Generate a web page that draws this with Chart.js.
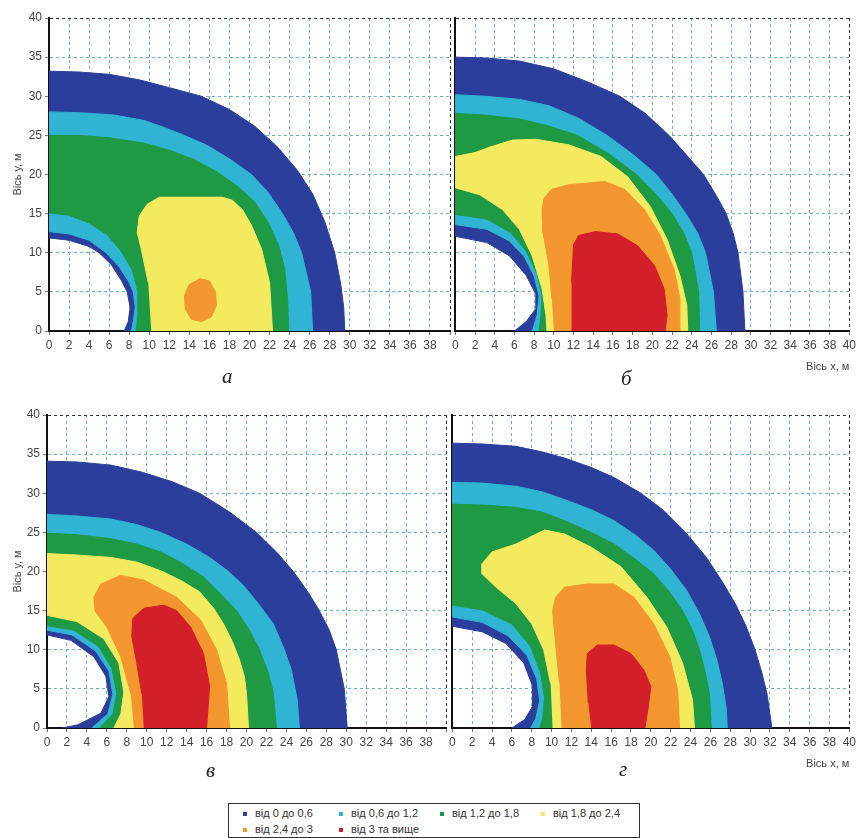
<!DOCTYPE html>
<html>
<head>
<meta charset="utf-8">
<script src="https://cdn.jsdelivr.net/npm/chart.js@4.4.0/dist/chart.umd.min.js"></script>
<style>
  body { margin: 0; background: #fff; width: 859px; height: 838px; position: relative; overflow: hidden;
         font-family: "Liberation Sans", Arial, sans-serif; }
  canvas { position: absolute; }
  .cap { position: absolute; font: italic 21px "Liberation Serif", "DejaVu Serif", serif; color: #222; }
  #legend { position: absolute; left: 228px; top: 803px; width: 410px; height: 33px; border: 1px solid #333;
            font-size: 11px; color: #333; }
  #legend .item { position: absolute; white-space: nowrap; }
  #legend .mark { display: inline-block; width: 4px; height: 4px; margin-right: 8px; vertical-align: middle; }
</style>
</head>
<body>
<canvas id="chartA" width="453" height="378" style="left:0;top:0"></canvas>
<canvas id="chartB" width="410" height="378" style="left:449px;top:0"></canvas>
<canvas id="chartC" width="449" height="378" style="left:0;top:397px"></canvas>
<canvas id="chartD" width="413" height="378" style="left:446px;top:397px"></canvas>
<div class="cap" style="left:222px;top:364px">а</div>
<div class="cap" style="left:621px;top:366px">б</div>
<div class="cap" style="left:206px;top:758px">в</div>
<div class="cap" style="left:619px;top:757px">г</div>
<div id="legend"></div>
<script>
// рівні
const levelLabels = ['від 0 до 0,6', 'від 0,6 до 1,2', 'від 1,2 до 1,8', 'від 1,8 до 2,4', 'від 2,4 до 3', 'від 3 та вище'];
const levelColors = ['#2b3e9b', '#2fb4d4', '#1d9a43', '#f3ea5f', '#f4962e', '#d21f29'];

// а
const aBlueOuter = [[29.5,0],[29.4,3],[29.1,6],[28.5,10],[27.5,14],[26.3,17.5],[24.8,20.5],[22.8,23.5],[20.5,26.2],[18,28.3],[15.2,30],[12,31.1],[9,32.1],[6,32.8],[3,33.1],[0,33.2]];
const aCyanOuter = [[26.3,0],[26.1,5],[25.2,10],[24.4,12.5],[23.3,15],[21.8,17.8],[20.2,20],[18,22],[15.8,23.7],[13.5,25],[11.5,26],[9.5,26.9],[6.5,27.6],[3,27.9],[0,28]];
const aGreenOuter = [[23.9,0],[23.8,4],[23.5,8],[22.9,11],[21.8,14],[20.5,16.5],[18.8,18.5],[16.8,20.3],[14.5,21.9],[12,23.1],[9.5,24],[6,24.7],[3,25],[0,25]];
const aHole = [[0,11.9],[2,11.6],[4,10.8],[5,10],[6.2,8.5],[7.2,6.5],[7.8,5],[8.1,3],[7.9,1.2],[7.5,0]];
const aBlueInner = [[0,12.7],[2,12.4],[4,11.6],[5.7,10],[7,8.2],[8,6.2],[8.4,5],[8.6,3],[8.4,1.2],[8.2,0]];
const aCyanInner = [[0,15.1],[2,14.8],[4,13.8],[5.8,12.3],[7.2,10.2],[8.3,7.8],[8.9,5],[8.9,2.5],[8.7,0]];
const aYellow = [[10.2,0],[22.3,0],[22,6.2],[21.2,10.5],[20.2,13.5],[19.3,15.5],[18.3,16.7],[17.3,17.1],[11,17.1],[9.8,16.2],[9,14.7],[8.8,12.6],[9.2,10.5],[9.9,6.2]];
const aOrange = [[15,6.7],[16,6.4],[16.6,5],[16.7,3.3],[16.2,1.8],[15.2,1.2],[14.2,1.5],[13.6,2.8],[13.5,4.5],[14,6]];

// б
const bBlueOuter = [[29.4,0],[29.2,5],[28.7,10],[28.2,12.5],[27.5,15],[26.5,17.3],[25.2,20],[23.6,22.3],[21.7,25],[19.3,27.8],[16.7,30],[13.5,31.8],[10,33.5],[6.5,34.5],[3,34.9],[0,35]];
const bCyanOuter = [[26.5,0],[26.2,5],[25.4,10],[24.6,12.5],[23.4,15],[22,17.5],[20.4,20],[18,22.6],[15.4,25],[12.5,27.2],[9.5,28.8],[6.5,29.6],[3,30],[0,30.2]];
const bGreenOuter = [[24.8,0],[24.7,5],[24,10],[23.2,12.5],[22,15],[20.5,17.3],[18.4,20],[15.5,22.7],[12.4,25],[9.5,26.2],[6.5,27.1],[3,27.6],[0,27.8]];
const bYellowOuter = [[23.6,0],[23.5,3.3],[22.8,7.1],[21.5,11.7],[19.8,15.9],[17.5,19.7],[14.8,22.3],[11.5,23.8],[8.2,24.5],[5.8,24.4],[3.5,23.5],[2,22.8],[0,22.3]];
const bHole = [[0,12.1],[3.2,11.3],[5.5,9.6],[7.2,7.1],[8.2,4.6],[8.2,2.9],[7.2,1.2],[6,0]];
const bBlueInner = [[0,13.6],[3.2,13],[5.5,11.5],[7,9.5],[8,7],[8.5,4.5],[8.3,2],[7.8,0]];
const bCyanInner = [[0,14.9],[3.2,14.3],[5.6,12.6],[7.2,10.2],[8.3,7.3],[8.8,4.5],[8.7,2],[8.5,0]];
const bGreenInner = [[0,18.3],[2.5,17.4],[4.8,15.5],[6.5,13],[7.8,9.6],[8.8,5.4],[9.2,2],[9.3,0]];
const bOrange = [[10,0],[22.8,0],[22.8,4.1],[22.2,7.9],[20.8,12.2],[19.2,15.5],[17.2,18.1],[15.2,19.1],[11.5,18.7],[9.8,18.1],[9,17],[8.8,15.5],[8.9,12.6],[9.5,8.4],[9.8,4.1]];
const bRed = [[11.8,0],[21.3,0],[21.5,2],[21.2,5.4],[20.2,8.4],[18.5,10.9],[16.5,12.4],[14.2,12.7],[12.5,12.2],[12,11],[11.8,6.2]];

// в
const cBlueOuter = [[30.1,0],[29.8,5],[29,10],[28.3,12.5],[27.3,15],[26.2,17.3],[24.7,20],[23,22.5],[21,25],[18.3,27.6],[15.3,30],[12.5,31.5],[9.5,32.7],[6.4,33.6],[3,34],[0,34.1]];
const cCyanOuter = [[25.3,0],[25.1,3.5],[24.5,7.4],[23.8,10],[22.7,13.3],[21.3,15.7],[19.7,18.2],[18.2,20],[16.3,21.8],[14,23.5],[11.4,25],[9,26],[6.4,26.7],[3,27.1],[0,27.3]];
const cGreenOuter = [[23,0],[22.7,4.4],[22.2,7],[21.3,10],[20.3,12.5],[19,15],[17.5,17],[15.7,19.3],[13.5,21.1],[11.4,22.5],[9,23.5],[6.4,24.2],[3,24.7],[0,24.9]];
const cYellowOuter = [[20.2,0],[20,4.4],[19.8,6.5],[19.3,8.7],[18.6,11],[17.7,13.3],[16.7,15.3],[15.3,17.4],[13.5,18.8],[11.4,20.1],[9,21.2],[6.4,21.8],[3,22.1],[0,22.3]];
const cHole = [[0,11.9],[2.4,11.2],[4.7,9.1],[5.9,6.6],[6.2,4],[5.4,1.9],[3.1,0.4],[1.5,0]];
const cBlueInner = [[0,12.5],[2.5,11.9],[4.9,9.8],[6.2,7.3],[6.6,4.3],[6.1,1.8],[4.5,0]];
const cCyanInner = [[0,13.1],[2.7,12.5],[5.2,10.4],[6.5,7.6],[7,4.4],[6.6,1.8],[5.3,0]];
const cGreenInner = [[0,14.4],[3,13.6],[5.7,11.4],[7.2,8.3],[7.7,4.6],[7.4,1.8],[6.7,0]];
const cOrange = [[8.7,0],[18.3,0],[18,5.7],[17,10],[15.4,13.8],[13,16.7],[9.7,18.9],[7.4,19.5],[5.4,18.4],[4.7,16.7],[4.8,15],[6,12.9],[7.4,9.1],[8.4,4.4]];
const cRed = [[9.7,0],[16,0],[16.3,5.3],[15.7,9.5],[14.4,12.9],[13,15],[11.7,15.7],[9.7,15.3],[8.6,14],[8.5,11.7],[9,8.3],[9.5,4.4]];

// г
const dBlueOuter = [[32.2,0],[31.7,4.4],[31.2,7],[30.5,10],[29.6,13],[28.5,15.9],[27.2,18.7],[25.6,21.8],[23.5,25],[21.3,27.8],[19,30],[16.3,32],[14,33.3],[11.3,34.5],[9,35.3],[6.4,36],[3,36.3],[0,36.4]];
const dCyanOuter = [[27.7,0],[27.6,2.5],[27.2,5.7],[26.7,8.5],[25.9,11.7],[24.9,14.6],[23.6,17.6],[22,20.3],[20.3,22.7],[18.5,24.6],[16.3,26.5],[14,27.9],[11.3,29.2],[9,30.2],[6.4,30.9],[3,31.3],[0,31.4]];
const dGreenOuter = [[26.1,0],[25.9,4.4],[25.5,7],[24.9,10],[24.2,12.5],[23.2,15],[21.8,17.5],[20.3,19.7],[18.5,21.5],[16.3,23.5],[14,25],[11.3,26.5],[9,27.6],[6.4,28.2],[3,28.5],[0,28.6]];
const dHole = [[0,13],[3,12.3],[5.4,10.8],[7.2,8.3],[8.1,5.3],[8.1,2.8],[7.3,1.1],[6,0]];
const dBlueInner = [[0,14.2],[3,13.5],[5.6,11.8],[7.5,9.3],[8.5,6.3],[8.8,3.5],[8.4,1.2],[7.9,0]];
const dCyanInner = [[0,15.7],[3,15.1],[6,13.3],[7.9,10.4],[8.9,7],[9.3,3.8],[9.1,1.2],[8.8,0]];
const dYellow = [[10.1,0],[24.4,0],[24.2,3.6],[23.2,8.3],[21.6,12.9],[19.6,16.7],[17,20.6],[14,23.1],[11.3,24.8],[9.3,25.3],[6.4,23.5],[4,22.5],[3,21],[3,19.7],[4.4,18],[6.4,15.9],[8,13.3],[9.2,10],[9.9,5.7]];
const dOrange = [[11,0],[22.9,0],[22.7,4.9],[21.9,9.1],[20.3,13.3],[18.3,16.7],[16.3,18.4],[13.6,18.4],[11.3,18],[10.4,16.7],[10.1,15],[10.4,10.8],[10.8,5.7]];
const dRed = [[14,0],[19.4,0],[19.7,2.3],[20,5.3],[19.3,7.4],[18,9.5],[16.3,10.6],[14.6,10.6],[13.6,9.5],[13.5,7.4],[13.7,3.2]];

Chart.defaults.font.family = "'Liberation Sans', Arial, sans-serif";
Chart.defaults.font.size = 12;
Chart.defaults.color = '#444';

function toPoints(list) {
    return list.map(p => ({ x: p[0], y: p[1] }));
}

// зовнішній контур + внутрішній (біля осей) = замкнена область
function makeLayer(outer, inner, level) {
    const pts = inner ? outer.concat(inner) : outer;
    return {
        label: levelLabels[level],
        data: toPoints(pts),
        showLine: true,
        fill: 'shape',
        backgroundColor: levelColors[level],
        borderColor: levelColors[level],
        borderWidth: 1,
        pointRadius: 0,
        tension: 0,
        order: 10 - level
    };
}

function createContourChart(canvasId, layers, isRight, yWidth) {
    const ctx = document.getElementById(canvasId).getContext('2d');
    new Chart(ctx, {
        type: 'scatter',
        data: { datasets: layers.map(l => makeLayer(l[0], l[1], l[2])) },
        options: {
            responsive: false,
            animation: false,
            events: [],
            layout: { padding: { top: 18, right: 0, bottom: 0, left: 0 } },
            plugins: { legend: { display: false }, tooltip: { enabled: false } },
            scales: {
                x: {
                    type: 'linear', min: 0, max: 40,
                    ticks: {
                        stepSize: 2, autoSkip: false, maxRotation: 0, padding: 3,
                        callback: v => (!isRight && v === 40) ? '' : v
                    },
                    grid: {
                        color: c => (c.tick && c.tick.value === 40) ? '#333' : '#6aaed6',
                        tickLength: 4, tickColor: '#777'
                    },
                    border: { display: true, color: '#111', width: 2, dash: [3, 3] },
                    title: {
                        display: isRight, text: 'Вісь х, м', align: 'end',
                        font: { size: 11 }, padding: { top: 4, bottom: 4 }
                    },
                    afterFit: s => { s.height = 47; }
                },
                y: {
                    type: 'linear', min: 0, max: 40,
                    ticks: { display: !isRight, stepSize: 5, padding: 3 },
                    grid: {
                        color: c => (c.tick && c.tick.value === 40) ? '#333' : '#6aaed6',
                        drawTicks: !isRight, tickLength: 4, tickColor: '#777'
                    },
                    border: { display: true, color: '#111', width: 2, dash: [3, 3] },
                    title: {
                        display: !isRight, text: 'Вісь у, м',
                        font: { size: 11 }, padding: { top: 11, bottom: 0 }
                    },
                    afterFit: s => { s.width = isRight ? 3 : yWidth; }
                }
            }
        }
    });
}

createContourChart('chartA', [
    [aBlueOuter, aHole, 0], [aCyanOuter, aBlueInner, 1], [aGreenOuter, aCyanInner, 2],
    [aYellow, null, 3], [aOrange, null, 4]
], false, 49);

createContourChart('chartB', [
    [bBlueOuter, bHole, 0], [bCyanOuter, bBlueInner, 1], [bGreenOuter, bCyanInner, 2],
    [bYellowOuter, bGreenInner, 3], [bOrange, null, 4], [bRed, null, 5]
], true, 3);

createContourChart('chartC', [
    [cBlueOuter, cHole, 0], [cCyanOuter, cBlueInner, 1], [cGreenOuter, cCyanInner, 2],
    [cYellowOuter, cGreenInner, 3], [cOrange, null, 4], [cRed, null, 5]
], false, 47);

createContourChart('chartD', [
    [dBlueOuter, dHole, 0], [dCyanOuter, dBlueInner, 1], [dGreenOuter, dCyanInner, 2],
    [dYellow, null, 3], [dOrange, null, 4], [dRed, null, 5]
], true, 3);

// легенда
const legend = document.getElementById('legend');
const legendPos = [[14, 3], [110, 3], [211, 3], [312, 3], [14, 19], [110, 19]];
levelLabels.forEach((label, i) => {
    const item = document.createElement('div');
    item.className = 'item';
    item.style.left = legendPos[i][0] + 'px';
    item.style.top = legendPos[i][1] + 'px';
    item.innerHTML = '<span class="mark" style="background:' + levelColors[i] + '"></span>' + label;
    legend.appendChild(item);
});
</script>
</body>
</html>
